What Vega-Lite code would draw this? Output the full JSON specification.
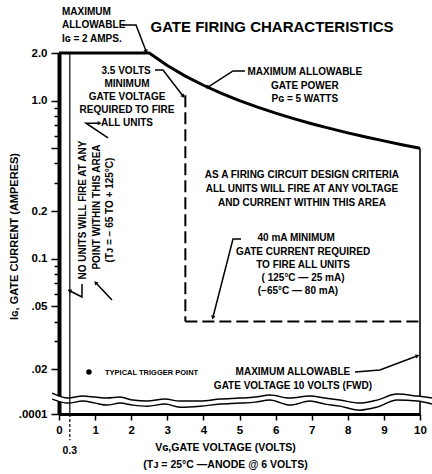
{
  "$schema": "https://vega.github.io/schema/vega-lite/v6.json",
  "width": 361,
  "height": 361,
  "autosize": {"type": "none"},
  "padding": {"left": 59, "top": 53, "right": 12, "bottom": 60},
  "background": "white",
  "config": {"view": {"stroke": null}, "font": "Liberation Sans"},
  "datasets": {
    "curve": [
      {"v": 0, "i": 2}, {"v": 2.5, "i": 2}, {"v": 3, "i": 1.667}, {"v": 3.5, "i": 1.429},
      {"v": 4, "i": 1.25}, {"v": 4.5, "i": 1.111}, {"v": 5, "i": 1.0}, {"v": 5.5, "i": 0.909},
      {"v": 6, "i": 0.833}, {"v": 6.5, "i": 0.769}, {"v": 7, "i": 0.714}, {"v": 7.5, "i": 0.667},
      {"v": 8, "i": 0.625}, {"v": 8.5, "i": 0.588}, {"v": 9, "i": 0.556}, {"v": 9.5, "i": 0.526},
      {"v": 10, "i": 0.5}
    ],
    "brk": [
      {"v": -0.19, "i": 0.014098, "i2": 0.012918},
      {"v": 0.25, "i": 0.013110, "i2": 0.012186},
      {"v": 0.66, "i": 0.013496, "i2": 0.012548},
      {"v": 1.0, "i": 0.013302, "i2": 0.012186},
      {"v": 1.33, "i": 0.013110, "i2": 0.011836},
      {"v": 1.69, "i": 0.013302, "i2": 0.012186},
      {"v": 2.05, "i": 0.012732, "i2": 0.011836},
      {"v": 2.44, "i": 0.012548, "i2": 0.011663},
      {"v": 2.94, "i": 0.012918, "i2": 0.012010},
      {"v": 3.35, "i": 0.012548, "i2": 0.011495},
      {"v": 3.91, "i": 0.012548, "i2": 0.011663},
      {"v": 4.46, "i": 0.012918, "i2": 0.012010},
      {"v": 5.01, "i": 0.013110, "i2": 0.012186},
      {"v": 5.43, "i": 0.013302, "i2": 0.012364},
      {"v": 5.84, "i": 0.013694, "i2": 0.012732},
      {"v": 6.40, "i": 0.013110, "i2": 0.011836},
      {"v": 6.95, "i": 0.013496, "i2": 0.012548},
      {"v": 7.37, "i": 0.013110, "i2": 0.012010},
      {"v": 7.78, "i": 0.012732, "i2": 0.011663},
      {"v": 8.34, "i": 0.012186, "i2": 0.011003},
      {"v": 8.81, "i": 0.012732, "i2": 0.011495},
      {"v": 9.36, "i": 0.013895, "i2": 0.012732},
      {"v": 9.92, "i": 0.013496, "i2": 0.012548},
      {"v": 10.33, "i": 0.013110, "i2": 0.012010}
    ],
    "arr": [
      {"a": "A1", "k": 1, "v": 1.745, "i": 3.007}, {"a": "A1", "k": 2, "v": 2.133, "i": 3.007}, {"a": "A1", "k": 3, "v": 2.41, "i": 2.059},
      {"a": "A2", "k": 1, "v": 2.659, "i": 1.561}, {"a": "A2", "k": 2, "v": 2.881, "i": 1.561}, {"a": "A2", "k": 3, "v": 3.435, "i": 1.069},
      {"a": "A3", "k": 1, "v": 1.357, "i": 0.58}, {"a": "A3", "k": 2, "v": 0.748, "i": 0.72}, {"a": "A3", "k": 3, "v": 1.108, "i": 0.72},
      {"a": "A4", "k": 1, "v": 0.637, "i": 0.0691}, {"a": "A4", "k": 2, "v": 0.637, "i": 0.0572}, {"a": "A4", "k": 3, "v": 0.305, "i": 0.0624},
      {"a": "A5", "k": 1, "v": 1.468, "i": 0.0548}, {"a": "A5", "k": 2, "v": 1.025, "i": 0.0701},
      {"a": "A6", "k": 1, "v": 5.152, "i": 1.539}, {"a": "A6", "k": 2, "v": 4.82, "i": 1.539}, {"a": "A6", "k": 3, "v": 4.127, "i": 1.2186},
      {"a": "A7", "k": 1, "v": 5.042, "i": 0.1331}, {"a": "A7", "k": 2, "v": 4.82, "i": 0.1331}, {"a": "A7", "k": 3, "v": 4.266, "i": 0.04274},
      {"a": "A8", "k": 1, "v": 8.2, "i": 0.01918}, {"a": "A8", "k": 2, "v": 8.89, "i": 0.019746}, {"a": "A8", "k": 3, "v": 9.917, "i": 0.0242}
    ],
    "txt": [
      {"g": "title", "v": 5.90, "i": 2.921, "t": "GATE FIRING CHARACTERISTICS"},
      {"g": "l", "v": 0.083, "i": 3.634, "t": "MAXIMUM"},
      {"g": "l", "v": 0.083, "i": 3.007, "t": "ALLOWABLE"},
      {"g": "l", "v": 0.083, "i": 2.452, "t": "Iɢ = 2 AMPS."},
      {"g": "c", "v": 1.86, "i": 1.539, "t": "3.5 VOLTS"},
      {"g": "c", "v": 1.884, "i": 1.273, "t": "MINIMUM"},
      {"g": "c", "v": 1.884, "i": 1.054, "t": "GATE VOLTAGE"},
      {"g": "c", "v": 1.884, "i": 0.872, "t": "REQUIRED TO FIRE"},
      {"g": "c", "v": 1.884, "i": 0.721, "t": "ALL UNITS"},
      {"g": "c", "v": 6.81, "i": 1.517, "t": "MAXIMUM ALLOWABLE"},
      {"g": "c", "v": 6.81, "i": 1.236, "t": "GATE POWER"},
      {"g": "c", "v": 6.81, "i": 1.023, "t": "Pɢ = 5 WATTS"},
      {"g": "c", "v": 6.73, "i": 0.3382, "t": "AS A FIRING CIRCUIT DESIGN CRITERIA"},
      {"g": "c", "v": 6.73, "i": 0.2758, "t": "ALL UNITS WILL FIRE AT ANY VOLTAGE"},
      {"g": "c", "v": 6.73, "i": 0.2249, "t": "AND CURRENT WITHIN THIS AREA"},
      {"g": "c", "v": 6.57, "i": 0.1351, "t": "40 mA  MINIMUM"},
      {"g": "c", "v": 6.76, "i": 0.1102, "t": "GATE CURRENT REQUIRED"},
      {"g": "c", "v": 6.76, "i": 0.0912, "t": "TO FIRE ALL UNITS"},
      {"g": "c", "v": 6.76, "i": 0.0754, "t": "( 125°C — 25 mA)"},
      {"g": "c", "v": 6.62, "i": 0.0624, "t": "(−65°C — 80 mA)"},
      {"g": "c", "v": 6.48, "i": 0.01918, "t": "MAXIMUM ALLOWABLE"},
      {"g": "c", "v": 6.48, "i": 0.01564, "t": "GATE VOLTAGE 10 VOLTS (FWD)"},
      {"g": "r", "v": 0.665, "i": 0.2031, "t": "NO UNITS WILL FIRE AT ANY"},
      {"g": "r", "v": 1.053, "i": 0.2122, "t": "POINT WITHIN THIS AREA"},
      {"g": "r", "v": 1.413, "i": 0.2031, "t": "(Tᴊ = − 65 TO + 125°C)"},
      {"g": "s", "v": 1.274, "i": 0.0189, "t": "TYPICAL TRIGGER POINT"},
      {"g": "n", "v": 0.3, "i": 0.0061, "t": "0.3"}
    ]
  },
  "encoding": {
    "x": {
      "field": "v", "type": "quantitative",
      "scale": {"domain": [0, 10], "nice": false, "zero": false},
      "axis": {
        "values": [0, 1, 2, 3, 4, 5, 6, 7, 8, 9, 10],
        "grid": false, "domainWidth": 3, "domainColor": "black",
        "tickColor": "black", "tickWidth": 1.5, "tickSize": 6,
        "labelFont": "Liberation Sans", "labelFontWeight": "bold", "labelFontSize": 11.5,
        "labelColor": "black", "labelPadding": 4, "labelFlush": false, "labelOverlap": false,
        "title": ["Vɢ,GATE VOLTAGE (VOLTS)", "(Tᴊ = 25°C —ANODE @ 6 VOLTS)"],
        "titleFont": "Liberation Sans", "titleFontWeight": "bold", "titleFontSize": 10.5,
        "titleColor": "black", "titleX": 166, "titleY": 33, "titleAlign": "center",
        "titleBaseline": "middle", "titleLineHeight": 17
      }
    },
    "y": {
      "field": "i", "type": "quantitative",
      "scale": {"type": "log", "domain": [0.0104, 2], "nice": false},
      "axis": {
        "values": [2, 1, 0.9, 0.8, 0.7, 0.6, 0.5, 0.4, 0.3, 0.2, 0.1, 0.09, 0.08, 0.07, 0.06, 0.05, 0.04, 0.03, 0.02, 0.0104],
        "labelExpr": "datum.value == 2 ? '2.0' : datum.value == 1 ? '1.0' : datum.value == 0.2 ? '0.2' : datum.value == 0.1 ? '0.1' : datum.value == 0.05 ? '.05' : datum.value == 0.02 ? '.02' : datum.value < 0.011 ? '.0001' : ''",
        "grid": false, "domainWidth": 4, "domainColor": "black",
        "tickColor": "black", "tickWidth": 1.5,
        "tickSize": {"condition": {"test": "indexof([2, 1, 0.5, 0.2, 0.1, 0.05, 0.02, 0.0104], datum.value) >= 0", "value": 8}, "value": 5},
        "labelFont": "Liberation Sans", "labelFontWeight": "bold", "labelFontSize": 11.5,
        "labelColor": "black", "labelPadding": 4, "labelOverlap": false, "labelBound": false, "labelFlush": false,
        "title": "Iɢ, GATE CURRENT (AMPERES)",
        "titleFont": "Liberation Sans", "titleFontWeight": "bold", "titleFontSize": 11,
        "titleColor": "black", "titleX": -45, "titleY": 183, "titleAngle": 270,
        "titleAlign": "center", "titleBaseline": "middle"
      }
    }
  },
  "layer": [
    {"data": {"name": "curve"}, "mark": {"type": "line", "color": "black", "strokeWidth": 3, "clip": false}},
    {"data": {"values": [{"v": 10, "i": 0.5, "i2": 0.0104}]}, "mark": {"type": "rule", "color": "black", "strokeWidth": 1.6}, "encoding": {"y2": {"field": "i2"}}},
    {"data": {"values": [{"v": 3.5, "i": 1.08, "i2": 0.04}]}, "mark": {"type": "rule", "color": "black", "strokeWidth": 2, "strokeDash": [12, 5]}, "encoding": {"y2": {"field": "i2"}}},
    {"data": {"values": [{"v": 3.5, "v2": 10, "i": 0.04}]}, "mark": {"type": "rule", "color": "black", "strokeWidth": 2, "strokeDash": [12, 5]}, "encoding": {"x2": {"field": "v2"}}},
    {"data": {"name": "brk"}, "mark": {"type": "area", "color": "white", "opacity": 1, "interpolate": "monotone", "clip": false}, "encoding": {"y2": {"field": "i2"}}},
    {"data": {"name": "brk"}, "mark": {"type": "line", "color": "black", "strokeWidth": 1.5, "interpolate": "monotone", "clip": false}},
    {"data": {"name": "brk"}, "mark": {"type": "line", "color": "black", "strokeWidth": 1.5, "interpolate": "monotone", "clip": false}, "encoding": {"y": {"field": "i2", "type": "quantitative"}}},
    {"data": {"values": [{"v": 0.3, "i": 2, "i2": 0.0104}]}, "mark": {"type": "rule", "color": "black", "strokeWidth": 1.2}, "encoding": {"y2": {"field": "i2"}}},
    {"data": {"values": [{"v": 0.3, "i": 0.0104, "i2": 0.0071}]}, "mark": {"type": "rule", "color": "black", "strokeWidth": 1.2, "strokeDash": [3, 2]}, "encoding": {"y2": {"field": "i2"}}},
    {"data": {"name": "arr"}, "mark": {"type": "line", "color": "black", "strokeWidth": 1.5, "clip": false}, "encoding": {"detail": {"field": "a"}, "order": {"field": "k"}}},
    {"data": {"values": [{"v": 2.41, "i": 2.059}]}, "mark": {"type": "point", "shape": "triangle", "filled": true, "color": "black", "opacity": 1, "size": 20, "angle": 159}},
    {"data": {"values": [{"v": 3.435, "i": 1.069}]}, "mark": {"type": "point", "shape": "triangle", "filled": true, "color": "black", "opacity": 1, "size": 20, "angle": 142}},
    {"data": {"values": [{"v": 1.108, "i": 0.72}]}, "mark": {"type": "point", "shape": "triangle", "filled": true, "color": "black", "opacity": 1, "size": 20, "angle": 90}},
    {"data": {"values": [{"v": 0.305, "i": 0.0624}]}, "mark": {"type": "point", "shape": "triangle", "filled": true, "color": "black", "opacity": 1, "size": 20, "angle": 297}},
    {"data": {"values": [{"v": 1.025, "i": 0.0701}]}, "mark": {"type": "point", "shape": "triangle", "filled": true, "color": "black", "opacity": 1, "size": 20, "angle": 317}},
    {"data": {"values": [{"v": 4.127, "i": 1.2186}]}, "mark": {"type": "point", "shape": "triangle", "filled": true, "color": "black", "opacity": 1, "size": 20, "angle": 237}},
    {"data": {"values": [{"v": 4.266, "i": 0.04274}]}, "mark": {"type": "point", "shape": "triangle", "filled": true, "color": "black", "opacity": 1, "size": 20, "angle": 194}},
    {"data": {"values": [{"v": 9.917, "i": 0.0242}]}, "mark": {"type": "point", "shape": "triangle", "filled": true, "color": "black", "opacity": 1, "size": 20, "angle": 69}},
    {"data": {"values": [{"v": 0.83, "i": 0.01918}]}, "mark": {"type": "point", "shape": "circle", "filled": true, "color": "black", "opacity": 1, "size": 30}},
    {"data": {"name": "txt"}, "transform": [{"filter": "datum.g == 'title'"}], "mark": {"type": "text", "font": "Liberation Sans", "fontWeight": "bold", "fontSize": 15, "color": "black", "align": "center", "baseline": "middle"}, "encoding": {"text": {"field": "t"}}},
    {"data": {"name": "txt"}, "transform": [{"filter": "datum.g == 'c'"}], "mark": {"type": "text", "font": "Liberation Sans", "fontWeight": "bold", "fontSize": 10, "color": "black", "align": "center", "baseline": "middle"}, "encoding": {"text": {"field": "t"}}},
    {"data": {"name": "txt"}, "transform": [{"filter": "datum.g == 'l'"}], "mark": {"type": "text", "font": "Liberation Sans", "fontWeight": "bold", "fontSize": 10, "color": "black", "align": "left", "baseline": "middle"}, "encoding": {"text": {"field": "t"}}},
    {"data": {"name": "txt"}, "transform": [{"filter": "datum.g == 'r'"}], "mark": {"type": "text", "font": "Liberation Sans", "fontWeight": "bold", "fontSize": 10, "color": "black", "align": "center", "baseline": "middle", "angle": 270}, "encoding": {"text": {"field": "t"}}},
    {"data": {"name": "txt"}, "transform": [{"filter": "datum.g == 's'"}], "mark": {"type": "text", "font": "Liberation Sans", "fontWeight": "bold", "fontSize": 7.5, "color": "black", "align": "left", "baseline": "middle"}, "encoding": {"text": {"field": "t"}}},
    {"data": {"name": "txt"}, "transform": [{"filter": "datum.g == 'n'"}], "mark": {"type": "text", "font": "Liberation Sans", "fontWeight": "bold", "fontSize": 10.5, "color": "black", "align": "center", "baseline": "middle"}, "encoding": {"text": {"field": "t"}}}
  ]
}
